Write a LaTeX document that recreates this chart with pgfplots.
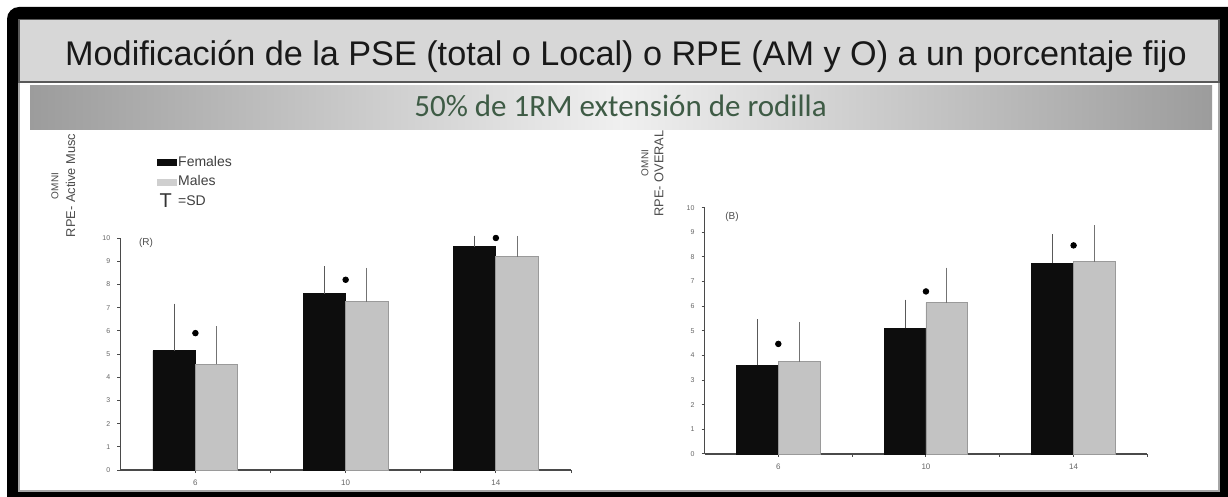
\documentclass[border=0pt]{standalone}
\usepackage{fontspec}
\setmainfont{Liberation Sans}
\newfontfamily\carlito{Carlito}
\usepackage{pgfplots}
\pgfplotsset{compat=1.18}

\definecolor{barblack}{HTML}{0D0D0D}
\definecolor{bargray}{HTML}{C3C3C3}
\definecolor{bargrayedge}{HTML}{9A9A9A}
\definecolor{titleband}{HTML}{D7D7D7}
\definecolor{subband}{HTML}{9C9C9C}
\definecolor{subtext}{HTML}{3E5B45}
\definecolor{axisgray}{HTML}{4A4A4A}

\pgfplotsset{
  rpeaxis/.style={
    scale only axis,
    anchor=south west,
    xmin=4, xmax=16, ymin=0, ymax=10,
    axis x line*=bottom, axis y line*=left,
    axis line style={axisgray, line width=0.6pt},
    xtick={6,8,10,12,14,16}, xticklabels={6,,10,,14,},
    ytick={0,1,...,10},
    tick align=outside, major tick length=1.5pt,
    tick style={axisgray, line width=0.5pt},
    xticklabel style={font=\fontsize{4}{4}\selectfont, text=black!60},
    yticklabel style={font=\fontsize{3.5}{4}\selectfont, text=black!60},
    /pgf/number format/assume math mode=true,
    clip=false,
  },
  femalebar/.style={ybar, bar width=1.13, bar shift=0pt,
    fill=barblack, draw=barblack,
    legend image code/.code={\fill[barblack] (0pt,-1.4pt) rectangle (9.5pt,1.4pt);},
    error bars/.cd, y dir=plus, y explicit,
    error bar style={black!65, line width=0.5pt},
    error mark options={black!65, mark size=1.5pt, line width=0.5pt}},
  malebar/.style={ybar, bar width=1.13, bar shift=0pt,
    fill=bargray, draw=bargrayedge, line width=0.4pt,
    legend image code/.code={\fill[bargray!80] (0pt,-1.4pt) rectangle (9.5pt,1.4pt);},
    error bars/.cd, y dir=plus, y explicit,
    error bar style={black!55, line width=0.5pt},
    error mark options={black!55, mark size=1.5pt, line width=0.5pt}},
}

\begin{document}
\begin{tikzpicture}
% slide background, in pixels of a 1228 x 497 frame, y downwards
\begin{scope}[x=0.5pt, y=-0.5pt]
\useasboundingbox (0,0) rectangle (1228,497);
\fill[white] (0,0) rectangle (1228,497);
\fill[black] (7,497) [rounded corners=6] -- (7,7) [sharp corners] -- (1228,7) -- (1228,497) -- cycle;
\fill[white] (18,19) rectangle (1220,492);
\draw[gray!70, line width=0.6pt] (19,82) -- (19,491) -- (1219,491) -- (1219,82);
\filldraw[fill=titleband, draw=black!65, line width=0.8pt] (19,19.5) rectangle (1219,82);
\shade[left color=subband, right color=white!94!black] (30,86) rectangle (621,130);
\shade[left color=white!94!black, right color=subband] (621,86) rectangle (1212,130);
\node[anchor=base, font=\fontsize{17.1}{20}\selectfont, text=black!90, inner sep=0pt] at (626,66)
  {Modificación de la PSE (total o Local) o RPE (AM y O) a un porcentaje fijo};
\node[anchor=base, font=\carlito\fontsize{15.5}{18}\selectfont, text=subtext, inner sep=0pt] at (620.5,117)
  {50\% de 1RM extensión de rodilla};
% axis titles
\node[rotate=90, font=\fontsize{5}{5}\selectfont, text=black!70, inner sep=0pt] at (55,186) {OMNI};
\node[rotate=90, font=\fontsize{6.4}{7}\selectfont, text=black!70, inner sep=0pt] at (70.5,185.5) {RPE- Active Musc};
\node[rotate=90, font=\fontsize{5}{5}\selectfont, text=black!70, inner sep=0pt] at (645,163) {OMNI};
\node[rotate=90, font=\fontsize{6.4}{7}\selectfont, text=black!70, inner sep=0pt] at (659,173.5) {RPE- OVERAL};
\end{scope}

% left chart: active muscles
\begin{axis}[rpeaxis, at={(60.15pt,-235pt)}, width=225.35pt, height=116pt,
  legend style={at={(rel axis cs:0.081,1.36)}, anchor=north west, draw=none, fill=none,
    font=\fontsize{7}{8}\selectfont, inner sep=0pt, row sep=2pt,
    nodes={inner sep=0.6pt, text=black!75}},
  legend cell align=left]
\addplot[femalebar] coordinates {(5.435,5.14) +- (0,1.90) (9.435,7.60) +- (0,1.06) (13.435,9.63) +- (0,0.34)};
\addlegendentry{Females}
\addplot[malebar] coordinates {(6.565,4.55) +- (0,1.51) (10.565,7.25) +- (0,1.33) (14.565,9.20) +- (0,0.76)};
\addlegendentry{Males}
\addlegendimage{legend image code/.code={\node[inner sep=0pt, anchor=west, font=\fontsize{10}{10}\selectfont, text=black!80] at (0.8pt,0pt) {T};}}
\addlegendentry{=SD}
\addplot[only marks, mark=*, mark size=1.4pt, black, forget plot] coordinates {(6,5.90) (10,8.20) (14,10.0)};
\node[font=\fontsize{5}{5}\selectfont, text=black!70] at (rel axis cs:0.057,0.978) {(R)};
\end{axis}

% right chart: overall
\begin{axis}[rpeaxis, at={(352.25pt,-227pt)}, width=221.45pt, height=123.15pt]
\addplot[femalebar] coordinates {(5.435,3.60) +- (0,1.74) (9.435,5.10) +- (0,1.05) (13.435,7.75) +- (0,1.05)};
\addplot[malebar] coordinates {(6.565,3.75) +- (0,1.49) (10.565,6.15) +- (0,1.30) (14.565,7.80) +- (0,1.37)};
\addplot[only marks, mark=*, mark size=1.4pt, black, forget plot] coordinates {(6,4.47) (10,6.60) (14,8.47)};
\node[font=\fontsize{5}{5}\selectfont, text=black!70] at (rel axis cs:0.062,0.962) {(B)};
\end{axis}
\end{tikzpicture}
\end{document}
